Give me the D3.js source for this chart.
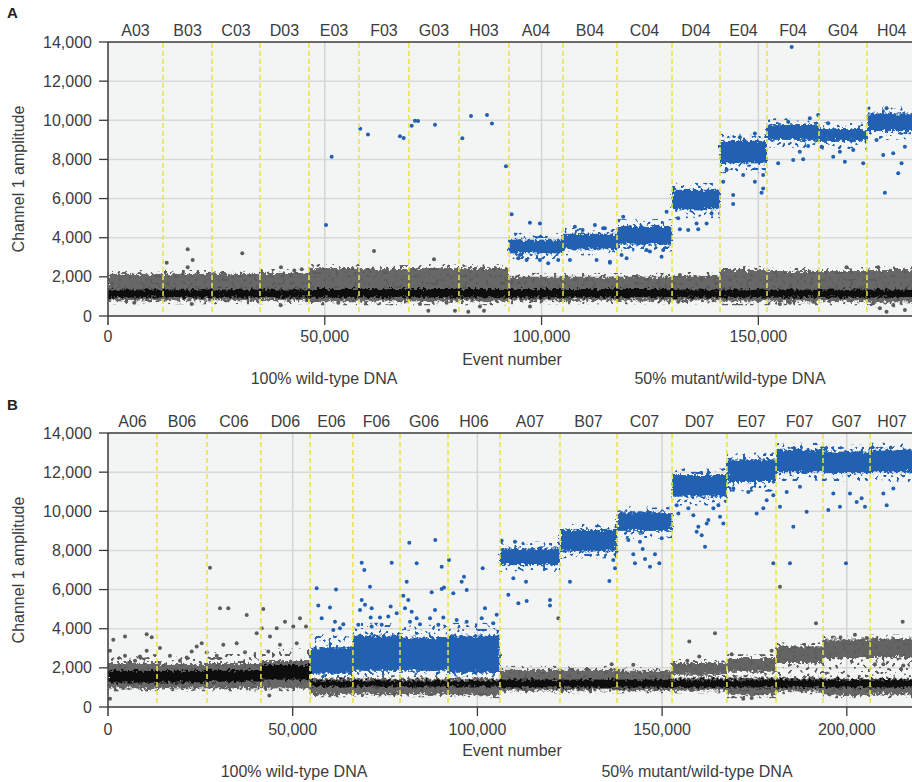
<!DOCTYPE html>
<html><head><meta charset="utf-8">
<script src="https://cdn.jsdelivr.net/npm/d3@7"></script>
<style>
body{margin:0;background:#fff}
text{font-family:"Liberation Sans",Arial,Helvetica,sans-serif}
</style>
</head><body>
<svg id="chart" width="912" height="782"></svg>
<script>
// ---------- Panel A data ----------
const wellsA = ["A03","B03","C03","D03","E03","F03","G03","H03","A04","B04","C04","D04","E04","F04","G04","H04"];
const edgesA = [0,12700,24000,35050,46350,57900,69400,80950,92500,104950,117400,130100,141150,152000,164000,175050,186500];
const greyA  = [[800,2150],[800,2150],[800,2150],[800,2200],[750,2450],[750,2400],[750,2450],[750,2450],[800,2000],[800,2000],[800,2000],[800,2050],[750,2350],[750,2300],[750,2300],[700,2350]];
const greyFringeA = [[600,2350],[600,2350],[600,2350],[600,2400],[550,2650],[550,2600],[550,2650],[550,2650],[600,2200],[600,2200],[600,2200],[600,2250],[550,2550],[550,2500],[550,2500],[450,2550]];
const coreA  = [[950,1350],[950,1350],[950,1350],[950,1350],[950,1380],[950,1380],[950,1380],[950,1380],[950,1380],[950,1380],[950,1380],[950,1350],[950,1350],[950,1350],[950,1350],[950,1350]];
const blueA  = [null,null,null,null,null,null,null,null,[3200,3900],[3400,4200],[3650,4600],[5450,6450],[7800,8950],[9000,9800],[8950,9550],[9450,10350]];
const blueFringeA = [null,null,null,null,null,null,null,null,[2900,4250],[3100,4500],[3300,4950],[5000,6800],[7300,9300],[8600,10100],[8500,9900],[9000,10700]];
const blueOutA = [[51590,8140],[58180,9570],[59960,9280],[67340,9180],[68200,9090],[70040,9720],[70800,9980],[71500,9960],[75420,9770],[81720,9080],[83720,10220],[87410,10270],[88560,9830],[91790,7650],[50280,4650],
 [93090,5200],[97310,4770],[99620,4730],[94620,2950],[96550,2860],[99620,2860],[101530,2690],[103840,2860],[106540,2860],[107690,4560],[109460,4390],[112300,4650],[114220,4480],[112690,2860],[115760,2720],[95010,3120],
 [118830,5070],[114610,4480],[115760,2770],[118450,3120],[119610,2950],[124220,3370],[124990,3290],[127680,3030],[128070,3370],[128840,5330],
 [131510,4990],[131900,4430],[133820,4390],[135750,4730],[138060,4730],[139210,5250],[136130,4430],
 [144200,6180],[144200,5720],[141890,6860],[149200,6860],[151110,6520],[150740,6300],[142670,7460],[146500,7200],[151110,7200],[149200,9330],[145740,9130],
 [154570,7800],[158030,7970],[160340,8010],[161490,8690],[159570,8390],[161880,10100],[156880,9930],[157690,13750],
 [164580,8650],[167270,8140],[168810,8390],[169960,7880],[171880,8480],[174180,7800],[163800,10270],[166110,9850],
 [177260,8990],[178800,8230],[181110,8310],[183800,8650],[183030,7800],[179570,10610],[182260,7290],[179180,6300]];
const greyOutA = [[13540,2720],[18380,3410],[19530,2860],[18380,2490],[19300,610],[6070,680],[30970,3200],[39900,2490],[39830,550],[42970,2320],[44670,2390],
 [61350,3320],[75190,2900],[53120,680],[71960,610],[73880,270],[78110,680],[80030,270],[83100,220],[85790,480],[86720,270],[97330,480],
 [176490,650],[178030,390],[181110,560],[183800,310],[179570,220],[131510,730],[154960,610],[157270,680],[162650,730],[170340,2490],[177640,2490],[131900,2090]];

// ---------- Panel B data ----------
const wellsB = ["A06","B06","C06","D06","E06","F06","G06","H06","A07","B07","C07","D07","E07","F07","G07","H07"];
const edgesB = [0,13265,26800,41400,54700,66300,79050,92050,106100,122350,137800,152700,167550,180850,193550,206300,218200];
const greyB  = [[950,2250],[950,2200],[950,2250],[950,2350],[650,1450],[650,1450],[650,1450],[600,1450],[850,1900],[850,1900],[850,1850],[850,1500],[600,1500],[800,1500],[600,1450],[650,1450]];
const greyFringeB = [[800,2700],[800,2600],[800,2800],[800,3000],[500,1600],[500,1600],[500,1600],[450,1600],[700,2100],[700,2100],[700,2050],[700,2450],[450,2700],[650,3300],[450,3650],[450,3700]];
const midB   = [null,null,null,null,null,null,null,null,null,null,null,[1650,2250],[1800,2500],[2250,3100],[2500,3450],[2550,3500]];
const coreB  = [[1250,1850],[1250,1850],[1300,1900],[1400,2150],[1050,1350],[1050,1350],[1050,1350],[1050,1350],[1000,1400],[1000,1400],[1000,1400],[1000,1400],[1000,1400],[1000,1400],[1000,1400],[1000,1400]];
const blueB  = [null,null,null,null,[1700,3050],[1850,3650],[1850,3550],[1750,3650],[7250,8100],[7950,9050],[9000,9950],[10750,11850],[11500,12650],[12000,13150],[11950,13050],[12000,13150]];
const blueFringeB = [null,null,null,null,[1500,3700],[1600,4300],[1600,4200],[1500,4300],[6900,8450],[7600,9350],[8600,10250],[10300,12200],[11000,13000],[11500,13500],[11500,13400],[11500,13500]];
const blueOutB = [[81560,8390],[88600,8530],[92310,7510],[83560,7340],[90330,7170],[76800,7370],[68680,7370],[69380,7000],[101430,7090],[106570,8490],[110170,8440],
 [56490,6070],[61720,6010],[56930,5180],[60100,5080],[57840,4540],[61450,4360],[63700,4230],[62800,4030],[60990,3940],[68680,5470],[69570,5220],[68220,4960],[71380,5050],[71110,4570],[73630,4570],[76520,5130],[75880,4620],[74090,4200],[71380,4110],[67760,4200],[78150,4790],
 [80860,6400],[79950,5690],[81300,5470],[80400,5050],[82210,4870],[83560,4540],[81750,4360],[84460,4230],[87620,5860],[90330,6030],[90960,6100],[88520,4960],[87170,4540],[90780,4570],[89420,4200],
 [93480,5810],[95740,6400],[97100,5980],[96370,6660],[94390,4450],[97100,4360],[102050,5050],[101160,4540],[104300,4280],[105220,4710],[70920,6150],
 [108370,5730],[109720,6580],[111080,5300],[113340,5420],[113160,6400],[119650,5470],[119650,5180],[125060,6400],[135720,6440],
 [136790,7510],[137250,7090],[140850,8530],[142200,7800],[144740,8070],[145370,7560],[148070,7800],[149240,7340],[146720,7170],[142660,7340],[144010,8440],[149890,8620],
 [153950,10310],[154400,9890],[157110,10150],[158460,9800],[159810,9210],[160720,8780],[161620,8190],[162520,9550],[163880,10150],[165230,10310],[165680,9720],[166580,9380],[162070,9380],[159360,8950],
 [169280,11160],[175600,9890],[177400,10150],[178310,10570],[180110,10820],[173340,10990],
 [181910,10230],[185520,9210],[180110,7340],[184620,7340],[183720,10990],[189130,9970],[187320,11250],
 [194990,10060],[198150,10230],[196350,10910],[200860,10910],[202670,10480],[204920,10230],[199780,7340],[204020,10660],
 [210790,10310],[209890,10910],[212590,11160]];
const greyOutB = [[540,2870],[1440,3430],[4600,3600],[4600,2620],[7310,2360],[10470,3720],[11830,3570],[10470,2870],[8660,2580],[14080,3010],[16780,2620],[19490,2360],[21300,2530],[22660,2830],[24010,3090],[25370,3260],[26720,2780],[29430,2620],
 [30320,5050],[32570,5050],[31210,3180],[34840,3260],[37550,4700],[37080,2800],[40250,3770],[42040,5010],[41600,4030],[43850,3600],[45670,4030],[47910,4360],[50160,4110],[51970,4540],[53600,4110],[51080,3260],[46560,3180],[43390,2830],[43670,590],[540,420],[27610,7120],
 [121900,4540],[181910,6150],[191660,4280],[215130,4360],[164320,3770],[157360,3350],[160060,2580],[156820,2360],[136350,2190],[142200,2160],[202210,3690],[205380,3520],[207630,2190],[209890,2190],[215300,2120],[168830,2700],[171980,420],[174250,460],[179660,2870]];

// ---------- Axis / label data ----------
const yTicks = [0,2000,4000,6000,8000,10000,12000,14000];
const xTicksA = [0,50000,100000,150000];
const xTicksB = [0,50000,100000,150000,200000];
const xMaxA = 185440, xMaxB = 217650;
const yMax = 14000;
const groupLabels = ["100% wild-type DNA","50% mutant/wild-type DNA"];

const svg = d3.select("#chart");
const defs = svg.append("defs");
// ragged edges for dense clusters
const f = defs.append("filter").attr("id","rough").attr("x","-2%").attr("y","-30%").attr("width","104%").attr("height","160%");
f.append("feTurbulence").attr("type","fractalNoise").attr("baseFrequency","0.35").attr("numOctaves",2).attr("seed",4).attr("result","n");
f.append("feDisplacementMap").attr("in","SourceGraphic").attr("in2","n").attr("scale",8).attr("xChannelSelector","R").attr("yChannelSelector","G");
// dotted texture for sparse fringes
const s = defs.append("filter").attr("id","speckle").attr("x","0").attr("y","0").attr("width","100%").attr("height","100%");
s.append("feTurbulence").attr("type","fractalNoise").attr("baseFrequency","0.28").attr("numOctaves",1).attr("seed",11).attr("result","n");
s.append("feColorMatrix").attr("in","n").attr("type","matrix").attr("values","0 0 0 0 0  0 0 0 0 0  0 0 0 0 0  16 0 0 0 -9.4").attr("result","m");
s.append("feComposite").attr("in","SourceGraphic").attr("in2","m").attr("operator","in");

const COL_BLUE = "#2060b2", COL_GREY = "#5c5c5c", COL_CORE = "#0e0e0e";

function panel(cfg){
  const {id, top, bottom, left, right, xMax, xTicks, wells, edges, grey, greyFringe, mid, core, blue, blueFringe, blueOut, greyOut, letterY, wellY, tickY, titleY, groupY, groupX} = cfg;
  const x = d3.scaleLinear().domain([0,xMax]).range([left,right]);
  const y = d3.scaleLinear().domain([0,yMax]).range([bottom,top]);
  const g = svg.append("g");
  defs.append("clipPath").attr("id","clip"+id).append("rect").attr("x",left).attr("y",top).attr("width",right-left).attr("height",bottom-top);

  g.append("rect").attr("x",left).attr("y",top).attr("width",right-left).attr("height",bottom-top).attr("fill","#f3f4f4");
  g.append("g").selectAll("line").data(yTicks.slice(1,-1)).join("line")
    .attr("x1",left).attr("x2",right).attr("y1",d=>y(d)).attr("y2",d=>y(d))
    .attr("stroke","#d9d9d9").attr("stroke-width",1.5);
  g.append("g").selectAll("line").data(xTicks.slice(1)).join("line")
    .attr("x1",d=>x(d)).attr("x2",d=>x(d)).attr("y1",top).attr("y2",bottom)
    .attr("stroke","#d4d4d4").attr("stroke-width",1.5);

  const data = g.append("g").attr("clip-path","url(#clip"+id+")");
  const idx = d3.range(wells.length);
  function drawBand(layer, arr, fill, op){
    layer.append("g").selectAll("rect").data(idx.filter(i=>arr[i])).join("rect")
      .attr("x",i=>x(edges[i])).attr("width",i=>x(edges[i+1])-x(edges[i]))
      .attr("y",i=>y(arr[i][1])).attr("height",i=>y(arr[i][0])-y(arr[i][1]))
      .attr("fill",fill).attr("opacity",op);
  }
  const fringes = data.append("g").attr("filter","url(#speckle)");
  drawBand(fringes, greyFringe, COL_GREY, 1);
  drawBand(fringes, blueFringe, COL_BLUE, 1);
  const bands = data.append("g").attr("filter","url(#rough)");
  drawBand(bands, grey, COL_GREY, 0.92);
  if(mid) drawBand(bands, mid, COL_GREY, 0.95);
  drawBand(bands, core, COL_CORE, 1);
  drawBand(bands, blue, COL_BLUE, 1);

  data.append("g").selectAll("circle").data(greyOut).join("circle")
    .attr("cx",d=>x(d[0])).attr("cy",d=>y(d[1])).attr("r",2).attr("fill",COL_GREY);
  data.append("g").selectAll("circle").data(blueOut).join("circle")
    .attr("cx",d=>x(d[0])).attr("cy",d=>y(d[1])).attr("r",2).attr("fill",COL_BLUE);

  g.append("g").selectAll("line").data(edges.slice(1,-1)).join("line")
    .attr("x1",d=>x(d)).attr("x2",d=>x(d)).attr("y1",top+1).attr("y2",bottom)
    .attr("stroke","#ece53a").attr("stroke-width",1.6).attr("stroke-dasharray","5,3").attr("opacity",0.95);

  g.append("line").attr("x1",left).attr("x2",right).attr("y1",top).attr("y2",top).attr("stroke","#3a3a3a").attr("stroke-width",1.5);
  g.append("line").attr("x1",left).attr("x2",right).attr("y1",bottom).attr("y2",bottom).attr("stroke","#3a3a3a").attr("stroke-width",1.5);
  g.append("line").attr("x1",left).attr("x2",left).attr("y1",top).attr("y2",bottom+9).attr("stroke","#3a3a3a").attr("stroke-width",1.5);

  const fmt = d3.format(",");
  const yt = g.append("g");
  yt.selectAll("line").data(yTicks).join("line").attr("x1",left-9).attr("x2",left).attr("y1",d=>y(d)).attr("y2",d=>y(d)).attr("stroke","#3a3a3a").attr("stroke-width",1.3);
  yt.selectAll("text").data(yTicks).join("text").attr("x",left-16).attr("y",d=>y(d)+5.5).attr("text-anchor","end")
    .attr("font-size",16).attr("fill","#3c3c3c").text(d=>fmt(d));
  const xt = g.append("g");
  xt.selectAll("line").data(xTicks.slice(1)).join("line").attr("x1",d=>x(d)).attr("x2",d=>x(d)).attr("y1",bottom).attr("y2",bottom+9).attr("stroke","#3a3a3a").attr("stroke-width",1.3);
  xt.selectAll("text").data(xTicks).join("text").attr("x",d=>x(d)).attr("y",tickY).attr("text-anchor","middle")
    .attr("font-size",16).attr("fill","#3c3c3c").text(d=>fmt(d));

  g.append("g").selectAll("text").data(idx).join("text")
    .attr("x",i=>x((edges[i]+edges[i+1])/2)).attr("y",wellY).attr("text-anchor","middle")
    .attr("font-size",16).attr("fill","#3c3c3c").text(i=>wells[i]);

  g.append("text").attr("x",7).attr("y",letterY).attr("font-size",15).attr("font-weight","bold").attr("fill","#222").text(id);
  g.append("text").attr("transform",`translate(24,${(top+bottom)/2}) rotate(-90)`).attr("text-anchor","middle")
    .attr("font-size",16).attr("fill","#3c3c3c").text("Channel 1 amplitude");
  g.append("text").attr("x",512).attr("y",titleY).attr("text-anchor","middle").attr("font-size",16).attr("fill","#3c3c3c").text("Event number");
  g.append("g").selectAll("text").data(groupLabels).join("text")
    .attr("x",(d,i)=>groupX[i]).attr("y",groupY).attr("text-anchor","middle").attr("font-size",16).attr("fill","#3c3c3c").text(d=>d);
}

panel({id:"A", top:42, bottom:316, left:108, right:912, xMax:xMaxA, xTicks:xTicksA, wells:wellsA, edges:edgesA,
  grey:greyA, greyFringe:greyFringeA, mid:null, core:coreA, blue:blueA, blueFringe:blueFringeA, blueOut:blueOutA, greyOut:greyOutA,
  letterY:18, wellY:36, tickY:342, titleY:365, groupY:384, groupX:[324,730]});
panel({id:"B", top:433, bottom:707, left:108, right:912, xMax:xMaxB, xTicks:xTicksB, wells:wellsB, edges:edgesB,
  grey:greyB, greyFringe:greyFringeB, mid:midB, core:coreB, blue:blueB, blueFringe:blueFringeB, blueOut:blueOutB, greyOut:greyOutB,
  letterY:410, wellY:427, tickY:735, titleY:756, groupY:777, groupX:[294,697]});
</script>
</body></html>
